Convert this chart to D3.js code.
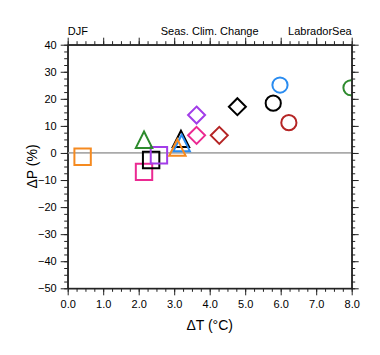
<!DOCTYPE html>
<html>
<head>
<meta charset="utf-8">
<script src="https://cdn.jsdelivr.net/npm/d3@7"></script>
<style>
  html, body { margin: 0; padding: 0; background: #fff; }
  svg { display: block; font-family: "Liberation Sans", Arial, Helvetica, sans-serif; }
</style>
</head>
<body>
<svg id="chart" width="380" height="355"></svg>
<script>
// ---- data ----
const markerNames = ["m01","m02","m03","m04","m05","m06","m07","m08","m09","m10","m11","m12","m13","m14","m15","m16"];
const dT = [0.42, 2.15, 2.35, 2.57, 2.15, 3.19, 3.21, 3.09, 3.63, 3.63, 4.27, 4.78, 5.79, 5.98, 6.23, 7.98];
const dP = [-1.4, -7.0, -2.6, -0.85, 4.9, 5.2, 3.7, 2.0, 14.0, 6.5, 6.5, 17.1, 18.4, 25.1, 11.2, 24.1];
const markerShape = ["square","square","square","square","triangle","triangle","triangle","triangle","diamond","diamond","diamond","diamond","circle","circle","circle","circle"];
const markerGroup = ["orange","pink","black","purple","green","black","blue","orange","purple","pink","red","black","black","blue","red","green"];
const xTickLabels = ["0.0","1.0","2.0","3.0","4.0","5.0","6.0","7.0","8.0"];
const yTickValues = [40, 30, 20, 10, 0, -10, -20, -30, -40, -50];
const titleLeft = "DJF", titleCenter = "Seas. Clim. Change", titleRight = "LabradorSea";
const xTitle = "\u0394T (\u00B0C)", yTitle = "\u0394P (%)";

// ---- styles ----
const palette = {orange:"#f58a20", pink:"#eb2a92", black:"#000000", purple:"#a23de8", green:"#2e8b2e", blue:"#2a8cf0", red:"#b52525"};

const L = 67.7, R = 351.7, T = 44.7, B = 288.3;
const svg = d3.select("#chart");
const x = d3.scaleLinear().domain([0, 8]).range([L, R]);
const y = d3.scaleLinear().domain([-50, 40]).range([B, T]);

const axisColor = "#222";
function styleAxis(g) {
  g.selectAll("path.domain").attr("stroke", axisColor).attr("stroke-width", 1);
  g.selectAll(".tick line").attr("stroke", axisColor).attr("stroke-width", 1);
  g.selectAll("text").attr("font-family", "Liberation Sans, Arial, sans-serif").attr("font-size", 11).attr("fill", "#000");
}
const xMinor = d3.range(0, 8.001, 0.25);
const yMinor = d3.range(-50, 40.001, 2.5);

// minor ticks
svg.append("g").attr("transform", `translate(0,${B})`).call(d3.axisBottom(x).tickValues(xMinor).tickSize(3.5).tickFormat("").tickSizeOuter(0)).call(styleAxis);
svg.append("g").attr("transform", `translate(0,${T})`).call(d3.axisTop(x).tickValues(xMinor).tickSize(3.5).tickFormat("").tickSizeOuter(0)).call(styleAxis);
svg.append("g").attr("transform", `translate(${L},0)`).call(d3.axisLeft(y).tickValues(yMinor).tickSize(3.5).tickFormat("").tickSizeOuter(0)).call(styleAxis);
svg.append("g").attr("transform", `translate(${R},0)`).call(d3.axisRight(y).tickValues(yMinor).tickSize(3.5).tickFormat("").tickSizeOuter(0)).call(styleAxis);

// major ticks
const xMajor = xTickLabels.map(Number);
svg.append("g").attr("transform", `translate(0,${B})`)
  .call(d3.axisBottom(x).tickValues(xMajor).tickSize(7).tickPadding(5).tickFormat((d,i) => xTickLabels[i]).tickSizeOuter(0)).call(styleAxis);
svg.append("g").attr("transform", `translate(0,${T})`)
  .call(d3.axisTop(x).tickValues(xMajor).tickSize(7).tickFormat("").tickSizeOuter(0)).call(styleAxis);
svg.append("g").attr("transform", `translate(${L},0)`)
  .call(d3.axisLeft(y).tickValues(yTickValues).tickSize(7).tickPadding(4).tickFormat(d3.format("d")).tickSizeOuter(0)).call(styleAxis);
svg.append("g").attr("transform", `translate(${R},0)`)
  .call(d3.axisRight(y).tickValues(yTickValues).tickSize(7).tickFormat("").tickSizeOuter(0)).call(styleAxis);

// clip
svg.append("clipPath").attr("id", "clip").append("rect").attr("x", L).attr("y", T).attr("width", R - L).attr("height", B - T);
const plot = svg.append("g").attr("clip-path", "url(#clip)");

// zero line
plot.append("line").attr("x1", x(0)).attr("x2", x(8)).attr("y1", y(0)).attr("y2", y(0))
  .attr("stroke", "#aaaaaa").attr("stroke-width", 1.8);

// markers
function markerPath(shape) {
  const h = 8.2;
  if (shape === "square") return `M${-h},${-h}H${h}V${h}H${-h}Z`;
  if (shape === "triangle") return `M0,${-h}L${h},${h}L${-h},${h}Z`;
  if (shape === "diamond") return `M0,${-h-0.3}L${h+0.3},0L0,${h+0.3}L${-h-0.3},0Z`;
  return null;
}
const pts = markerNames.map((n, i) => ({n, x: dT[i], y: dP[i], shape: markerShape[i], c: palette[markerGroup[i]]}));
pts.forEach(p => {
  if (p.shape === "circle") {
    plot.append("circle").attr("cx", x(p.x)).attr("cy", y(p.y)).attr("r", 7.6)
      .attr("fill", "none").attr("stroke", p.c).attr("stroke-width", 2);
  } else {
    plot.append("path").attr("d", markerPath(p.shape)).attr("transform", `translate(${x(p.x)},${y(p.y)})`)
      .attr("fill", "none").attr("stroke", p.c).attr("stroke-width", 2).attr("stroke-linejoin", "miter");
  }
});

// frame
svg.append("rect").attr("x", L).attr("y", T).attr("width", R - L).attr("height", B - T)
  .attr("fill", "none").attr("stroke", axisColor).attr("stroke-width", 1);

// titles
svg.append("text").attr("x", L).attr("y", 35).attr("font-size", 11).text(titleLeft);
svg.append("text").attr("x", (L + R) / 2 + 0).attr("y", 35).attr("font-size", 11).attr("text-anchor", "middle").text(titleCenter);
svg.append("text").attr("x", R).attr("y", 35).attr("font-size", 11).attr("text-anchor", "end").text(titleRight);

svg.append("text").attr("x", (L + R) / 2).attr("y", 330).attr("font-size", 14).attr("text-anchor", "middle").text(xTitle);
svg.append("text").attr("transform", `translate(37,${(T + B) / 2}) rotate(-90)`).attr("font-size", 14).attr("text-anchor", "middle").text(yTitle);
</script>
</body>
</html>
